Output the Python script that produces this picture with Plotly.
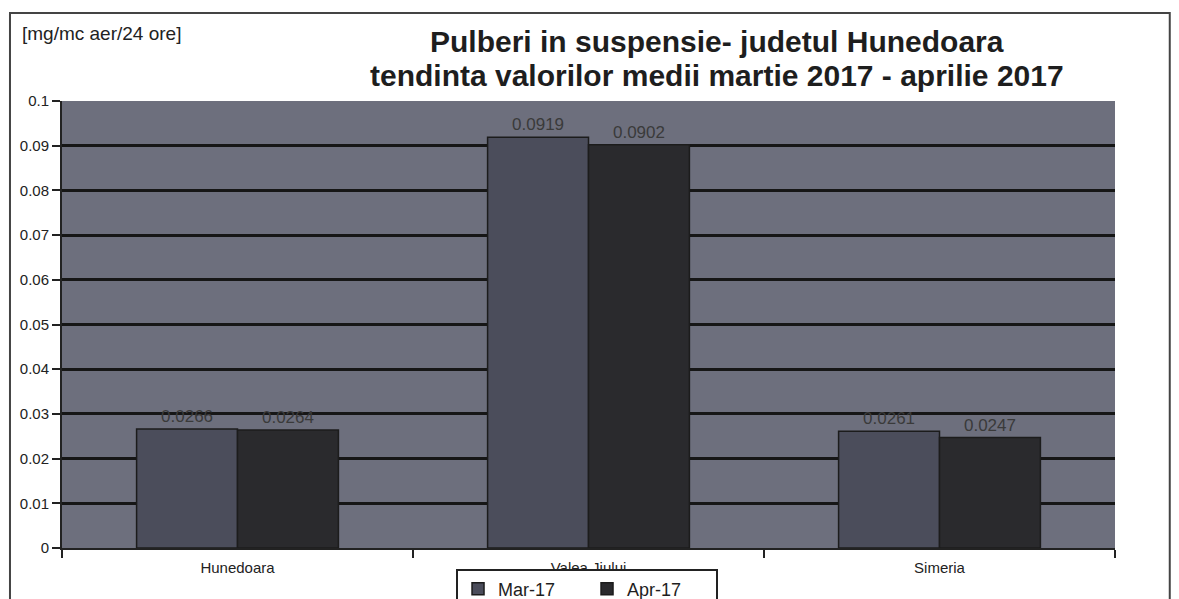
import plotly.graph_objects as go

categories = ["Hunedoara", "Valea Jiului", "Simeria"]
series_names = ["Mar-17", "Apr-17"]
mar_values = [0.0266, 0.0919, 0.0261]
apr_values = [0.0264, 0.0902, 0.0247]
label_mar = ["0.0266", "0.0919", "0.0261"]
label_apr = ["0.0264", "0.0902", "0.0247"]
y_ticks = [0, 0.01, 0.02, 0.03, 0.04, 0.05, 0.06, 0.07, 0.08, 0.09, 0.1]
y_tick_text = ["0", "0.01", "0.02", "0.03", "0.04", "0.05", "0.06", "0.07", "0.08", "0.09", "0.1"]
title_lines = ["Pulberi in suspensie- judetul Hunedoara",
               "tendinta valorilor medii martie 2017 - aprilie 2017"]
unit_label = "[mg/mc aer/24 ore]"

FONT = "Liberation Sans, Arial, sans-serif"

fig = go.Figure()
fig.add_trace(go.Bar(
    name=series_names[0], x=categories, y=mar_values,
    text=label_mar, textposition="outside", cliponaxis=False,
    textfont=dict(size=17, color="#3a3a3a", family=FONT),
    marker=dict(color="#4b4d5b", line=dict(color="#1c1c1c", width=1.5)),
))
fig.add_trace(go.Bar(
    name=series_names[1], x=categories, y=apr_values,
    text=label_apr, textposition="outside", cliponaxis=False,
    textfont=dict(size=17, color="#3a3a3a", family=FONT),
    marker=dict(color="#2a2a2d", line=dict(color="#1c1c1c", width=1.5)),
))

fig.update_layout(
    width=1179, height=599,
    margin=dict(l=54, r=72, t=93, b=59, autoexpand=False),
    paper_bgcolor="white",
    plot_bgcolor="#6d6f7d",
    barmode="group",
    bargap=0.425,
    bargroupgap=0,
    font=dict(family=FONT, color="#222"),
    showlegend=True,
    legend=dict(
        orientation="h", x=0.4986, xanchor="center", y=-0.046, yanchor="top",
        font=dict(size=18, color="#1e1e1e", family=FONT),
        bgcolor="white", bordercolor="#222", borderwidth=2,
        itemwidth=30, entrywidth=84, traceorder="normal",
    ),
)

fig.update_yaxes(
    range=[0, 0.1], tickvals=y_ticks, ticktext=y_tick_text,
    showgrid=True, gridcolor="#161616", gridwidth=3,
    ticks="outside", ticklen=8, tickwidth=2, tickcolor="#222",
    showline=True, linecolor="#222", linewidth=2,
    tickfont=dict(size=15, color="#222", family=FONT),
    zeroline=False,
)
fig.update_xaxes(
    showgrid=False, ticks="outside", tickson="boundaries", ticklen=8,
    tickwidth=2, tickcolor="#222", showline=True, linecolor="#222", linewidth=2,
    tickfont=dict(size=15, color="#222", family=FONT),
    ticklabelstandoff=5,
)

fig.add_annotation(
    text=unit_label, xref="paper", yref="paper",
    x=-0.040, y=1.152, xanchor="left", yanchor="middle",
    showarrow=False, font=dict(size=19, color="#222", family=FONT),
)
fig.add_annotation(
    text="<b>" + title_lines[0] + "</b>", xref="paper", yref="paper",
    x=0.622, y=1.132, xanchor="center", yanchor="middle",
    showarrow=False, font=dict(size=30, color="#1e1e1e", family=FONT),
)
fig.add_annotation(
    text="<b>" + title_lines[1] + "</b>", xref="paper", yref="paper",
    x=0.622, y=1.058, xanchor="center", yanchor="middle",
    showarrow=False, font=dict(size=30, color="#1e1e1e", family=FONT),
)

# outer chart frame
fig.add_shape(type="rect", xref="paper", yref="paper",
              x0=-0.0494, x1=1.052, y0=-0.3, y1=1.197,
              line=dict(color="#444", width=2), layer="below")

fig.write_html("out.html")
